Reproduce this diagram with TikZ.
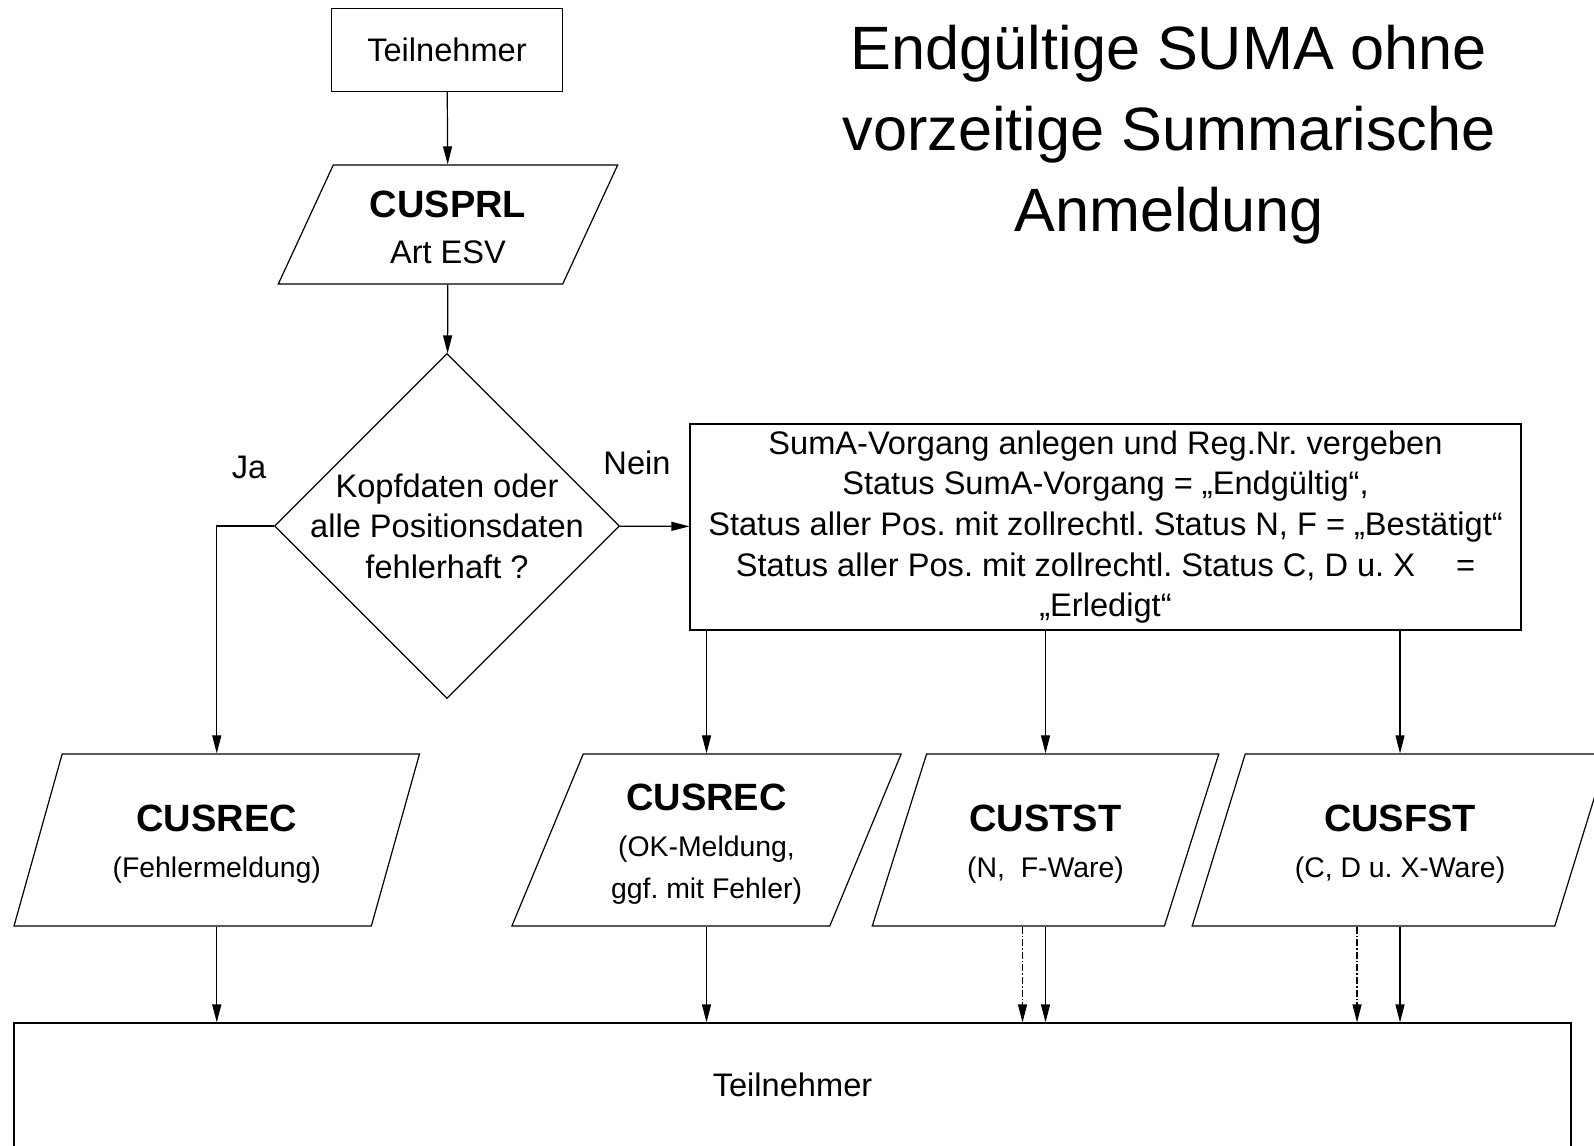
\documentclass[tikz,border=0pt]{standalone}
\usepackage{fontspec}
\setmainfont{Liberation Sans}
\usetikzlibrary{arrows.meta,shapes.geometric}
\frenchspacing

\begin{document}
\begin{tikzpicture}[x=0.5pt, y=-0.5pt, line width=0.6pt, >={Triangle[length=9pt,width=4.5pt]},
		io/.style={trapezium, trapezium left angle=#1, trapezium right angle=180-#1, trapezium stretches=true, minimum height=86pt, inner sep=1pt, font=\fontsize{14.2}{21}\selectfont},
		io/.default=68]
		\useasboundingbox (0,0) rectangle (1594,1145);
		\begin{scope}[every node/.style={draw, line width=0.6pt, align=center, font=\fontsize{16.3}{20.3}\selectfont}]
			\node[minimum width=115.5pt, minimum height=41.5pt] (tn) at(447,50) {Teilnehmer};
			\node[trapezium, trapezium left angle=65, trapezium right angle=115, trapezium stretches=true, minimum width=170pt, minimum height=59.5pt, inner sep=1pt] (prl) at(448,224.5) {{\fontsize{19}{24}\selectfont\bfseries\rule{0pt}{16pt}CUSPRL}\\[2.7pt]Art ESV};
			\node[diamond, aspect=1, minimum width=172.5pt, minimum height=172.5pt, inner sep=-12pt] (dec) at(447,526) {Kopfdaten oder\\alle Positionsdaten\\fehlerhaft ?};
			\node[minimum width=415.5pt, minimum height=103pt, inner sep=0pt] (suma) at(1105.5,527) {SumA-Vorgang anlegen und Reg.Nr. vergeben\\Status SumA-Vorgang = „Endgültig“,\\Status aller Pos. mit zollrechtl. Status N, F = „Bestätigt“\\Status aller Pos. mit zollrechtl. Status C, D u. X\hspace{16pt} =\\„Erledigt“};
			\node[io=70, minimum width=203pt] (rec) at(216.75,840) {{\fontsize{19}{24}\selectfont\bfseries\rule{0pt}{17.5pt}CUSREC}\\[2pt](Fehlermeldung)};
			\node[io=67, minimum width=195pt] (recok) at(706.5,840) {{\fontsize{19}{24}\selectfont\bfseries\rule{0pt}{17.5pt}CUSREC}\\[2pt](OK-Meldung,\\ggf. mit Fehler)};
			\node[io, minimum width=173.5pt] (tst) at(1045.5,840) {{\fontsize{19}{24}\selectfont\bfseries\rule{0pt}{17.5pt}CUSTST}\\[2pt](N,\ \ F-Ware)};
			\node[io, minimum width=208pt] (fst) at(1400,840) {{\fontsize{19}{24}\selectfont\bfseries\rule{0pt}{17.5pt}CUSFST}\\[2pt](C, D u. X-Ware)};
			\node[minimum width=778.5pt, minimum height=62pt] (tnend) at(792.5,1085) {Teilnehmer};
		\end{scope}
		\begin{scope}[every node/.style={font=\fontsize{16.3}{20.3}\selectfont}]
			\node (ja) at(249,467) {Ja};
			\node (nein) at(637,463) {Nein};
			\node[align=center, font=\fontsize{30.6}{40.5}\selectfont] (title) at(1169,135) {Endgültige SUMA ohne\\vorzeitige Summarische\\Anmeldung};
		\end{scope}
		\begin{scope}[->]
			\path (tn) edge (prl);
			\path (prl) edge (dec);
			\path (dec) edge (suma);
			\draw (dec.west) -| (rec.north);
			\path (recok.north |- suma.south) edge (recok.north);
			\path (tst.north |- suma.south) edge (tst.north);
			\path (fst.north |- suma.south) edge (fst.north);
			\path (rec.south) edge (rec.south |- tnend.north);
			\path (recok.south) edge (recok.south |- tnend.north);
			\path (tst.south) edge (tst.south |- tnend.north);
			\path (fst.south) edge (fst.south |- tnend.north);
			\path[dash pattern=on 3.5pt off 1pt on 0.8pt off 1pt] ([xshift=-11.5pt]tst.south) edge ([xshift=-11.5pt]tst.south |- tnend.north);
			\path[dash pattern=on 3.5pt off 1pt on 0.8pt off 1pt] ([xshift=-21.5pt]fst.south) edge ([xshift=-21.5pt]fst.south |- tnend.north);
		\end{scope}
	\end{tikzpicture}
\end{document}
